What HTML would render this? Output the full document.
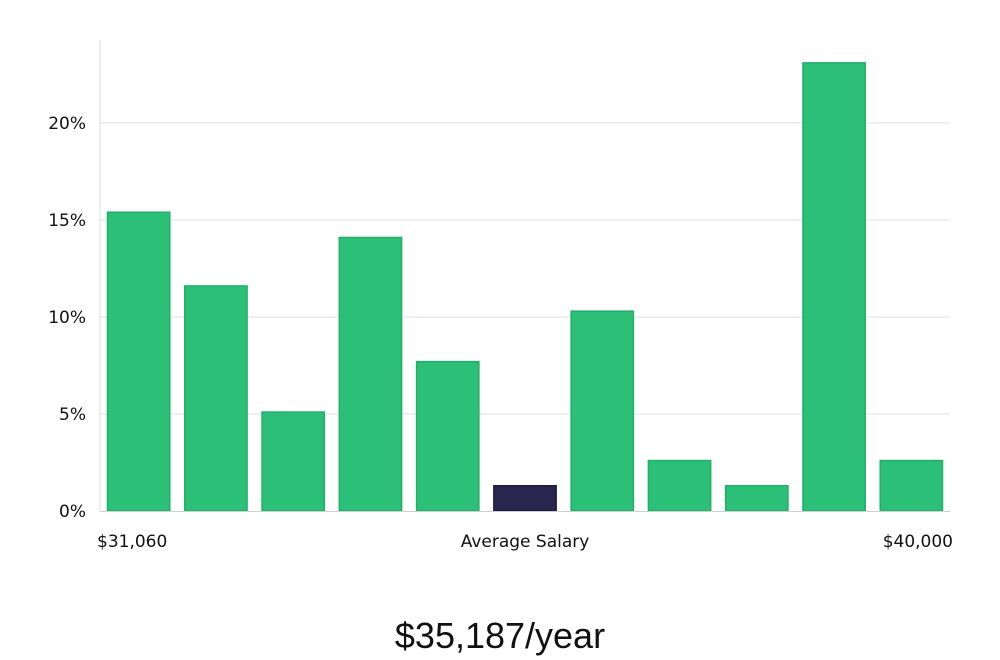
<!DOCTYPE html>
<html><head><meta charset="utf-8"><style>
html,body{margin:0;padding:0;background:#fff;}
svg{display:block;font-family:"DejaVu Sans","Liberation Sans",sans-serif;}
</style></head><body>
<svg id="chart" width="1000" height="660" viewBox="0 0 1000 660" xmlns="http://www.w3.org/2000/svg">
<g id="grid"></g>
<g id="bars"></g>
<g id="yticks"></g>
<line x1="100" y1="40" x2="100" y2="511" stroke="#dcdcdc" stroke-width="1"/>
<line x1="100" y1="511.5" x2="950" y2="511.5" stroke="#cfcfcf" stroke-width="1"/>
<text x="97" y="547" font-size="17" fill="#111">$31,060</text>
<text x="525" y="547" font-size="17" fill="#111" text-anchor="middle">Average Salary</text>
<text x="953" y="547" font-size="17" fill="#111" text-anchor="end">$40,000</text>
<text x="500" y="648" font-size="36" fill="#111" text-anchor="middle" font-family="Liberation Sans, sans-serif">$35,187/year</text>
</svg>
<script>
const categories = ["b1","b2","b3","b4","b5","b6","b7","b8","b9","b10","b11"];
const values = [15.4,11.6,5.1,14.1,7.7,1.3,10.3,2.6,1.3,23.1,2.6];
const highlightIndex = [5];
const yTicks = [0,5,10,15,20];
const yTickLabels = ["0%","5%","10%","15%","20%"];
const NS="http://www.w3.org/2000/svg";
const x0=100,x1=950,yBase=511,pxPerUnit=(511-123)/20;
const band=(x1-x0)/categories.length;
const xPos=i=>x0+i*band+7;
const yPos=v=>yBase-v*pxPerUnit;
const grid=document.getElementById('grid'),bars=document.getElementById('bars'),yt=document.getElementById('yticks');
yTicks.forEach((t,i)=>{
  if(t>0){const l=document.createElementNS(NS,'line');
  
  
  l.setAttribute('x1',x0);l.setAttribute('x2',x1);l.setAttribute('y1',yPos(t));l.setAttribute('y2',yPos(t));
  l.setAttribute('stroke','#e2e2e2');grid.appendChild(l);}
  const tx=document.createElementNS(NS,'text');
  
  
  tx.setAttribute('x',86);tx.setAttribute('y',yPos(t)+6);tx.setAttribute('text-anchor','end');
  tx.setAttribute('font-size','17');tx.setAttribute('fill','#111');tx.textContent=yTickLabels[i];yt.appendChild(tx);
});
values.forEach((v,i)=>{
  const r=document.createElementNS(NS,'rect');
  
  
  const hl=highlightIndex.includes(i);
  r.setAttribute('x',xPos(i)+0.5);r.setAttribute('y',yPos(v));
  r.setAttribute('width',band-14-1);r.setAttribute('height',yBase-yPos(v));
  r.setAttribute('fill',hl?'#2a2650':'#2cbf77');
  r.setAttribute('stroke',hl?'#1a1838':'#1fb06a');r.setAttribute('stroke-width','1.5');
  bars.appendChild(r);
});
</script>
</body></html>
